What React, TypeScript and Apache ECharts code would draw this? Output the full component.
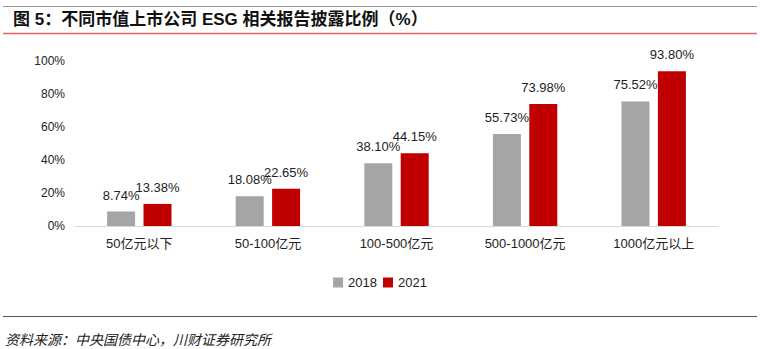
import React, { useEffect, useRef } from "react";
import * as echarts from "echarts";

const categories = ["50亿元以下", "50-100亿元", "100-500亿元", "500-1000亿元", "1000亿元以上"];
const values2018 = [8.74, 18.08, 38.1, 55.73, 75.52];
const values2021 = [13.38, 22.65, 44.15, 73.98, 93.8];
const seriesNames = ["2018", "2021"];
const yTicks = [0, 20, 40, 60, 80, 100];

const FONT = '"Liberation Sans", Arial, "Noto Sans CJK SC", sans-serif';

export default function App() {
  const ref = useRef<HTMLDivElement>(null);
  useEffect(() => {
    if (!ref.current) return;
    const chart = echarts.init(ref.current, null, { renderer: "svg" });
    const label = {
      show: true,
      position: "top",
      distance: 10,
      fontSize: 13,
      color: "#222",
      fontFamily: FONT,
      formatter: (p: any) => p.value.toFixed(2) + "%",
    };
    chart.setOption({
      animation: false,
      backgroundColor: "#fff",
      textStyle: { fontFamily: FONT },
      graphic: [
        { type: "line", shape: { x1: 3, y1: 6.5, x2: 757, y2: 6.5 }, style: { stroke: "#999", lineWidth: 1 } },
        {
          type: "text",
          left: 13,
          top: 11,
          style: {
            text: "图 5：不同市值上市公司 ESG 相关报告披露比例（%）",
            font: 'bold 17px "Liberation Sans", Arial, "Noto Sans CJK SC", sans-serif',
            fill: "#111",
          },
        },
        { type: "line", shape: { x1: 3, y1: 33.5, x2: 757, y2: 33.5 }, style: { stroke: "#E06666", lineWidth: 1.5 } },
        { type: "line", shape: { x1: 3, y1: 316.5, x2: 757, y2: 316.5 }, style: { stroke: "#555", lineWidth: 1 } },
        {
          type: "text",
          left: 5,
          top: 332,
          style: {
            text: "资料来源：中央国债中心，川财证券研究所",
            font: 'italic 14px "Noto Sans CJK SC", sans-serif',
            fill: "#222",
          },
        },
      ],
      legend: {
        data: seriesNames,
        top: 271,
        left: "center",
        itemWidth: 10,
        itemHeight: 10,
        itemGap: 6,
        icon: "rect",
        textStyle: { fontSize: 13, color: "#222", fontFamily: FONT },
      },
      grid: { left: 75, right: 42, top: 61, bottom: 123, containLabel: false },
      xAxis: {
        type: "category",
        data: categories,
        axisLine: { lineStyle: { color: "#D9D9D9", width: 1 } },
        axisTick: { show: false },
        axisLabel: { fontSize: 13, color: "#222", margin: 11, fontFamily: FONT },
      },
      yAxis: {
        type: "value",
        min: yTicks[0],
        max: yTicks[yTicks.length - 1],
        interval: 20,
        splitLine: { show: false },
        axisLine: { show: false },
        axisTick: { show: false },
        axisLabel: { fontSize: 12, color: "#222", margin: 10, formatter: "{value}%", fontFamily: FONT },
      },
      series: [
        {
          name: seriesNames[0],
          type: "bar",
          data: values2018,
          barWidth: 28,
          barGap: "30%",
          itemStyle: { color: "#A5A5A5" },
          label,
        },
        {
          name: seriesNames[1],
          type: "bar",
          data: values2021,
          barWidth: 28,
          itemStyle: { color: "#C00000" },
          label,
        },
      ],
    });
    return () => chart.dispose();
  }, []);
  return <div ref={ref} style={{ width: 760, height: 349, position: "absolute", left: 0, top: 0 }} />;
}
